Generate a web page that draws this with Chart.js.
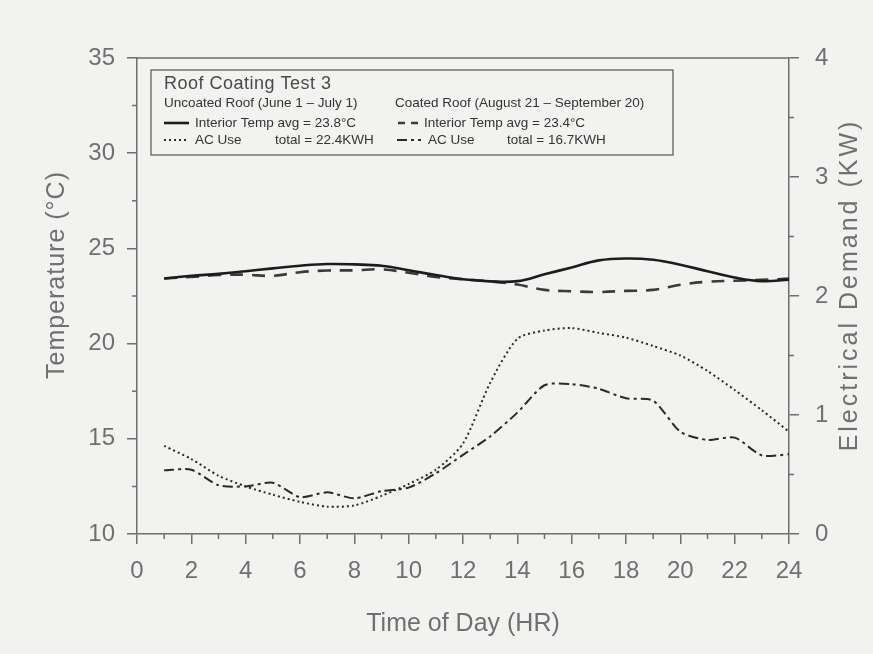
<!DOCTYPE html>
<html>
<head>
<meta charset="utf-8">
<script src="https://cdn.jsdelivr.net/npm/chart.js@4"></script>
<style>
  html, body { margin:0; padding:0; background:#f2f2f0; }
  #wrap { width:873px; height:654px; }
</style>
</head>
<body>
<div id="wrap"><canvas id="chart" width="873" height="654"></canvas></div>
<script>
// hourly readings
const hours = [1,2,3,4,5,6,7,8,9,10,11,12,13,14,15,16,17,18,19,20,21,22,23,24];
const tempUncoated = [23.42,23.56,23.66,23.80,23.95,24.09,24.18,24.16,24.09,23.85,23.60,23.38,23.27,23.28,23.64,24.00,24.37,24.47,24.40,24.14,23.80,23.47,23.28,23.36];
const tempCoated   = [23.42,23.50,23.60,23.62,23.56,23.75,23.84,23.85,23.90,23.72,23.50,23.38,23.27,23.10,22.82,22.75,22.71,22.77,22.82,23.09,23.25,23.30,23.35,23.41];
const acUncoated   = [0.74,0.63,0.49,0.40,0.33,0.27,0.23,0.24,0.32,0.42,0.54,0.76,1.27,1.64,1.71,1.73,1.69,1.65,1.58,1.50,1.37,1.21,1.04,0.86];
const acCoated     = [0.535,0.54,0.41,0.40,0.43,0.31,0.35,0.30,0.36,0.39,0.51,0.665,0.82,1.02,1.25,1.26,1.22,1.14,1.12,0.86,0.79,0.81,0.66,0.67];

const legendTitle = "Roof Coating Test 3";
const legendHeads = ["Uncoated Roof (June 1 \u2013 July 1)", "Coated Roof (August 21 \u2013 September 20)"];
const legendTemp = ["Interior Temp avg = 23.8\u00b0C", "Interior Temp avg = 23.4\u00b0C"];
const legendAc = ["AC Use", "total = 22.4KWH", "total = 16.7KWH"];

const axisColor = "#6e6e6e";
const textColor = "#707070";
const font = "'Liberation Sans', Arial, sans-serif";

const pts = (arr) => hours.map((h, i) => ({ x: h, y: arr[i] }));

// minor ticks, top frame line and rotated axis titles
const frame = {
  id: "frame",
  afterDraw(chart) {
    const { ctx, chartArea: a, scales } = chart;
    ctx.save();
    ctx.strokeStyle = axisColor;
    ctx.lineWidth = 1.5;
    ctx.beginPath();
    ctx.moveTo(a.left, a.top); ctx.lineTo(a.right, a.top);
    for (let h = 1; h < 24; h += 2) {
      const x = scales.x.getPixelForValue(h);
      ctx.moveTo(x, a.bottom); ctx.lineTo(x, a.bottom + 5);
    }
    for (let t = 12.5; t < 35; t += 5) {
      const y = scales.y.getPixelForValue(t);
      ctx.moveTo(a.left - 5, y); ctx.lineTo(a.left, y);
    }
    for (let k = 0.5; k < 4; k += 1) {
      const y = scales.y2.getPixelForValue(k);
      ctx.moveTo(a.right, y); ctx.lineTo(a.right + 5, y);
    }
    ctx.stroke();

    ctx.fillStyle = textColor;
    ctx.font = "25px " + font;
    ctx.textAlign = "center";
    ctx.textBaseline = "middle";
    ctx.save();
    ctx.translate(57, 275);
    ctx.rotate(-Math.PI / 2);
    ctx.letterSpacing = "1px";
    ctx.fillText("Temperature (\u00b0C)", 0, 0);
    ctx.restore();
    ctx.save();
    ctx.translate(850, 285);
    ctx.rotate(-Math.PI / 2);
    ctx.letterSpacing = "3px";
    ctx.fillText("Electrical Demand (KW)", 0, 0);
    ctx.restore();
    ctx.restore();
  }
};

// boxed legend in the upper left of the plot
const boxLegend = {
  id: "boxLegend",
  afterDraw(chart) {
    const ctx = chart.ctx;
    const ds = chart.data.datasets;
    const sample = (d, x1, x2, y, dash) => {
      ctx.save();
      ctx.strokeStyle = d.borderColor;
      ctx.lineWidth = d.borderWidth;
      ctx.setLineDash(dash || d.borderDash || []);
      ctx.beginPath(); ctx.moveTo(x1, y); ctx.lineTo(x2, y); ctx.stroke();
      ctx.restore();
    };
    ctx.save();
    ctx.strokeStyle = "#555";
    ctx.lineWidth = 1.2;
    ctx.strokeRect(151, 70, 522, 85);
    ctx.fillStyle = "#4a4a4a";
    ctx.textBaseline = "alphabetic";
    ctx.font = "18px " + font;
    ctx.letterSpacing = "0.5px";
    ctx.fillText(legendTitle, 164, 89);
    ctx.fillStyle = "#333";
    ctx.font = "13.5px " + font;
    ctx.letterSpacing = "0px";
    ctx.fillText(legendHeads[0], 164, 107);
    ctx.fillText(legendHeads[1], 395, 107);
    sample(ds[0], 164, 189, 123);
    ctx.fillText(legendTemp[0], 195, 127);
    sample(ds[1], 398, 418, 123, [7, 6]);
    ctx.fillText(legendTemp[1], 424, 127);
    sample(ds[2], 164, 188, 140);
    ctx.fillText(legendAc[0], 195, 144);
    ctx.fillText(legendAc[1], 275, 144);
    sample(ds[3], 397, 421, 140);
    ctx.fillText(legendAc[0], 428, 144);
    ctx.fillText(legendAc[2], 507, 144);
    ctx.restore();
  }
};

new Chart(document.getElementById("chart"), {
  type: "line",
  data: {
    datasets: [
      { label: "Uncoated Interior Temp", data: pts(tempUncoated), yAxisID: "y",
        borderColor: "#1c1c1c", borderWidth: 2.6, tension: 0.4 },
      { label: "Coated Interior Temp", data: pts(tempCoated), yAxisID: "y",
        borderColor: "#3a3a3a", borderWidth: 2.6, borderDash: [13, 9], tension: 0.4 },
      { label: "Uncoated AC Use", data: pts(acUncoated), yAxisID: "y2",
        borderColor: "#2a2a2a", borderWidth: 2, borderDash: [2, 3], tension: 0.25 },
      { label: "Coated AC Use", data: pts(acCoated), yAxisID: "y2",
        borderColor: "#2a2a2a", borderWidth: 2, borderDash: [10, 4, 3, 4], tension: 0.25 }
    ]
  },
  options: {
    responsive: false,
    animation: false,
    layout: { padding: { top: 58, left: 0, right: 0, bottom: 0 } },
    elements: { point: { radius: 0 } },
    plugins: { legend: { display: false }, tooltip: { enabled: false } },
    scales: {
      x: {
        type: "linear", min: 0, max: 24,
        border: { display: true, color: axisColor, width: 1.5 },
        grid: { drawOnChartArea: false, color: axisColor, lineWidth: 1.5, tickLength: 10 },
        ticks: { stepSize: 2, color: textColor, font: { family: font, size: 24 }, padding: 13 },
        title: { display: true, text: "Time of Day (HR)", color: textColor,
                 font: { family: font, size: 25 }, padding: { top: 0, bottom: 15 } },
        afterFit(scale) { scale.height = 120; }
      },
      y: {
        position: "left", min: 10, max: 35,
        border: { display: true, color: axisColor, width: 1.5 },
        grid: { drawOnChartArea: false, color: axisColor, lineWidth: 1.5, tickLength: 10 },
        ticks: { stepSize: 5, color: textColor, font: { family: font, size: 24 }, padding: 12 },
        afterFit(scale) { scale.width = 137; }
      },
      y2: {
        position: "right", min: 0, max: 4,
        border: { display: true, color: axisColor, width: 1.5 },
        grid: { drawOnChartArea: false, color: axisColor, lineWidth: 1.5, tickLength: 10 },
        ticks: { stepSize: 1, color: textColor, font: { family: font, size: 24 }, padding: 16 },
        afterFit(scale) { scale.width = 84; }
      }
    }
  },
  plugins: [frame, boxLegend]
});
</script>
</body>
</html>
